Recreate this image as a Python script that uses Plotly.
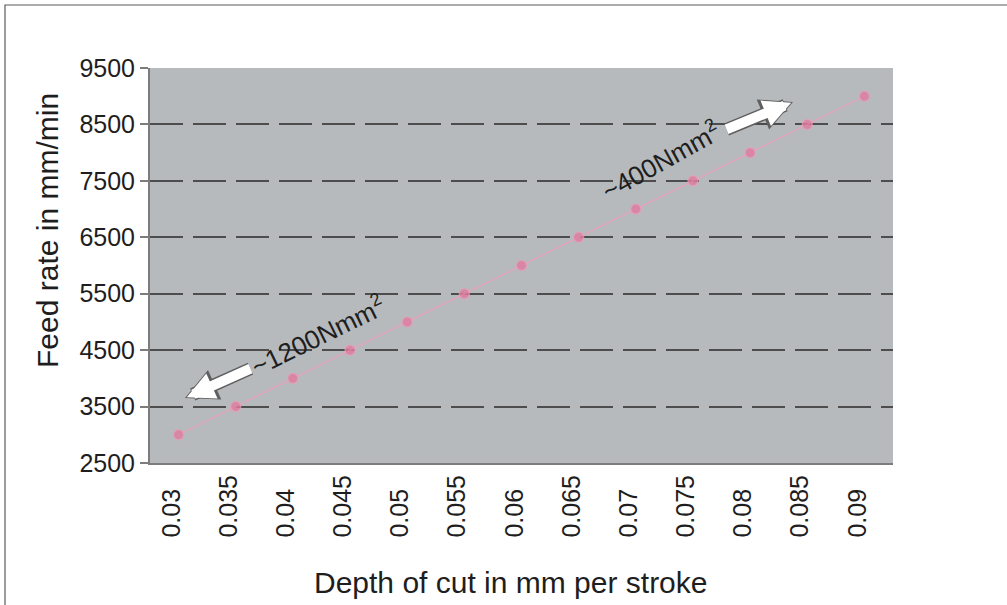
import plotly.graph_objects as go

# Depth of cut (mm per stroke) and the resulting feed rate (mm/min)
depth_of_cut = [0.03, 0.035, 0.04, 0.045, 0.05, 0.055, 0.06, 0.065, 0.07, 0.075, 0.08, 0.085, 0.09]
feed_rate = [3000, 3500, 4000, 4500, 5000, 5500, 6000, 6500, 7000, 7500, 8000, 8500, 9000]
x_tick_labels = ["0.03", "0.035", "0.04", "0.045", "0.05", "0.055", "0.06",
                 "0.065", "0.07", "0.075", "0.08", "0.085", "0.09"]
y_tick_values = [2500, 3500, 4500, 5500, 6500, 7500, 8500, 9500]

W, H = 1007, 605
ML, MR, MT, MB = 150, 114, 68, 142
PW, PH = W - ML - MR, H - MT - MB

FONT = "Liberation Sans, Arial, Helvetica, sans-serif"
TEXT = "#1e1e1e"

# pad shorter labels with no-break spaces so the rotated labels share a common baseline
longest = max(len(t) for t in x_tick_labels)
padded_ticks = [t + "\u00a0" * (2 * (longest - len(t))) for t in x_tick_labels]

fig = go.Figure()
fig.add_trace(go.Scatter(
    x=depth_of_cut, y=feed_rate, mode="lines+markers",
    line=dict(color="rgba(236,160,185,0.9)", width=1.3),
    marker=dict(color="rgba(222,122,156,0.8)", size=10,
                line=dict(color="rgba(235,160,185,0.6)", width=1.5)),
    showlegend=False, hoverinfo="x+y",
))


def px_to_paper_x(p):
    return (p - ML) / PW


def px_to_paper_y(p):
    return (MT + PH - p) / PH


# outer frame: top and left edges
frame_path = "M {r},{t} L {l},{t} L {l},{b}".format(
    r=px_to_paper_x(W + 2), t=px_to_paper_y(5), l=px_to_paper_x(5), b=px_to_paper_y(H + 2))

shapes = [dict(type="path", xref="paper", yref="paper", path=frame_path,
               line=dict(color="#5a5a5a", width=1.2), layer="above")]

annotations = []


def block_arrow(x, y, ax, ay):
    # dark outline underneath, white body on top
    annotations.append(dict(x=x, y=y, xref="x", yref="y", ax=ax, ay=ay, text="",
                            showarrow=True, arrowhead=2, arrowsize=0.5, arrowwidth=13,
                            arrowcolor="#5f5f5f", standoff=0))
    annotations.append(dict(x=x, y=y, xref="x", yref="y", ax=ax, ay=ay, text="",
                            showarrow=True, arrowhead=2, arrowsize=0.55, arrowwidth=10,
                            arrowcolor="#ffffff", standoff=2))


block_arrow(0.03056, 3652, 67, -30)
block_arrow(0.08375, 8897, -68, 28)

annotations.append(dict(x=0.04211, y=4768, xref="x", yref="y", showarrow=False,
                        text="~1200Nmm<sup>2</sup>", textangle=-26,
                        font=dict(family=FONT, size=26, color=TEXT)))
annotations.append(dict(x=0.07212, y=7869, xref="x", yref="y", showarrow=False,
                        text="~400Nmm<sup>2</sup>", textangle=-29,
                        font=dict(family=FONT, size=26, color=TEXT)))

# axis titles
annotations.append(dict(x=px_to_paper_x(511), y=px_to_paper_y(582), xref="paper", yref="paper",
                        xanchor="center", yanchor="middle",
                        showarrow=False, text="Depth of cut in mm per stroke",
                        font=dict(family=FONT, size=30, color=TEXT)))
annotations.append(dict(x=px_to_paper_x(47), y=px_to_paper_y(231), xref="paper", yref="paper",
                        xanchor="center", yanchor="middle",
                        showarrow=False, text="Feed rate in mm/min", textangle=-90,
                        font=dict(family=FONT, size=30, color=TEXT)))

fig.update_layout(
    width=W, height=H,
    margin=dict(l=ML, r=MR, t=MT, b=MB),
    paper_bgcolor="white",
    plot_bgcolor="#b6babd",
    font=dict(family=FONT, color=TEXT),
    shapes=shapes,
    annotations=annotations,
    xaxis=dict(
        range=[0.0275, 0.0925],
        tickmode="array", tickvals=depth_of_cut, ticktext=padded_ticks,
        tickangle=-90, tickfont=dict(size=25, color=TEXT),
        ticklabelshift=-7,
        showgrid=False, zeroline=False,
        showline=True, linecolor="#7c7c7c", linewidth=2,
        ticks="",
    ),
    yaxis=dict(
        range=[2500, 9500],
        tickmode="array", tickvals=y_tick_values,
        tickfont=dict(size=25, color=TEXT),
        showgrid=True, gridcolor="#4d4d4d", gridwidth=2, griddash="33px,10px",
        zeroline=False,
        showline=True, linecolor="#7c7c7c", linewidth=2,
        ticks="outside", ticklen=8, tickcolor="#7c7c7c", tickwidth=1.5,
    ),
)

fig.write_html("out.html")
